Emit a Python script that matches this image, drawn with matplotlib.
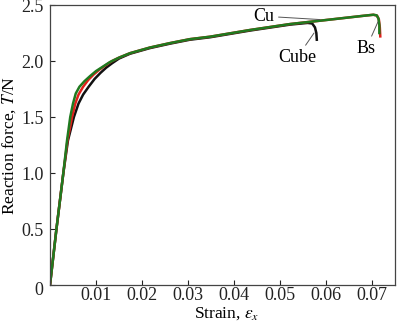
import matplotlib
matplotlib.use("Agg")
import matplotlib.pyplot as plt

plt.rcParams["font.family"] = ["Liberation Serif", "DejaVu Serif"]
plt.rcParams["mathtext.fontset"] = "stix"

# Reaction force vs strain for three orientations
cu_strain = [0, 0.0014, 0.0029, 0.0037, 0.0044, 0.0050, 0.0056, 0.0064, 0.0075, 0.0087,
             0.0100, 0.0115, 0.0130, 0.0150, 0.0174, 0.0217, 0.0261, 0.0304, 0.0348,
             0.0435, 0.0522, 0.0609, 0.0680, 0.0703, 0.0710, 0.0714, 0.0716, 0.0716]
cu_force = [0, 0.50, 1.00, 1.29, 1.50, 1.62, 1.71, 1.77, 1.82, 1.865,
            1.91, 1.95, 1.99, 2.03, 2.07, 2.12, 2.16, 2.195, 2.217,
            2.277, 2.33, 2.37, 2.403, 2.413, 2.408, 2.38, 2.32, 2.25]

bs_strain = [0, 0.0014, 0.0029, 0.0038, 0.0048, 0.0055, 0.0062, 0.0072, 0.0083,
             0.0095, 0.0108, 0.0122, 0.0135, 0.0150, 0.0174, 0.0217, 0.0261, 0.0304, 0.0348,
             0.0435, 0.0522, 0.0609, 0.0680, 0.0703, 0.0711, 0.0715, 0.0717, 0.0718]
bs_force = [0, 0.50, 1.00, 1.29, 1.50, 1.62, 1.70, 1.77, 1.83,
            1.88, 1.925, 1.965, 2.00, 2.03, 2.07, 2.12, 2.16, 2.195, 2.217,
            2.277, 2.33, 2.37, 2.403, 2.413, 2.405, 2.37, 2.30, 2.22]

cube_strain = [0, 0.0014, 0.0029, 0.0039, 0.0052, 0.0062, 0.0072, 0.0084, 0.0097,
               0.0110, 0.0122, 0.0135, 0.0150, 0.0174, 0.0217, 0.0261, 0.0304, 0.0348,
               0.0435, 0.0522, 0.0560, 0.0570, 0.0576, 0.0579, 0.0580]
cube_force = [0, 0.50, 1.00, 1.29, 1.50, 1.62, 1.70, 1.77, 1.84,
              1.895, 1.94, 1.98, 2.022, 2.065, 2.115, 2.155, 2.19, 2.212,
              2.272, 2.325, 2.34, 2.335, 2.30, 2.25, 2.19]

y_ticks = [0, 0.5, 1.0, 1.5, 2.0, 2.5]
y_tick_labels = ["", "0.5", "1.0", "1.5", "2.0", "2.5"]
x_ticks = [0, 0.01, 0.02, 0.03, 0.04, 0.05, 0.06, 0.07]
x_tick_labels = ["", "0.01", "0.02", "0.03", "0.04", "0.05", "0.06", "0.07"]
origin_label = "0"

fig = plt.figure(figsize=(4.0, 3.29), dpi=100)
ax = fig.add_axes([0.125, 0.1337, 0.8625, 0.8511])

ax.plot(cube_strain, cube_force, color="#111111", lw=1.8, solid_joinstyle="round")
ax.plot(bs_strain, bs_force, color="#e0201b", lw=1.8, solid_joinstyle="round")
ax.plot(cu_strain, cu_force, color="#1f7a1f", lw=1.8, solid_joinstyle="round")

ax.set_xlim(0, 0.075)
ax.set_ylim(0, 2.5)
ax.set_xticks(x_ticks)
ax.set_xticklabels(x_tick_labels)
ax.set_yticks(y_ticks)
ax.set_yticklabels(y_tick_labels)
ax.tick_params(direction="in", length=3.6, width=0.8, labelsize=13, colors="#222222",
               top=False, right=False)
ax.tick_params(axis="x", pad=1.5)
ax.tick_params(axis="y", pad=4.5)
for s in ax.spines.values():
    s.set_color("#444444")
    s.set_linewidth(0.9)

# Shared origin label at the corner
ax.annotate(origin_label, xy=(0, 0), xycoords="data", xytext=(-7, -5),
            textcoords="offset pixels", ha="right", va="center", fontsize=13,
            color="#222222")

fig.text(227 / 400, 1 - 314 / 329, r"Strain, $\varepsilon_x$", fontsize=12.5,
         ha="center", va="center")
fig.text(9 / 400, 1 - 145 / 329, r"Reaction force, $T$/N", fontsize=12.5,
         rotation=90, ha="center", va="center")

# Curve annotations with leader lines
line_kw = dict(arrowstyle="-", color="#555555", lw=0.7, shrinkA=1, shrinkB=0)
ax.annotate("Cu", xy=(0.0587, 2.37), xytext=(0.0465, 2.40), fontsize=13,
            ha="center", va="center", arrowprops=line_kw)
ax.annotate("Cube", xy=(0.0574, 2.25), xytext=(0.0537, 2.03), fontsize=13,
            ha="center", va="center", arrowprops=line_kw)
ax.annotate("Bs", xy=(0.0713, 2.35), xytext=(0.0687, 2.11), fontsize=13,
            ha="center", va="center", arrowprops=line_kw)

fig.savefig("out.png", dpi=100)
